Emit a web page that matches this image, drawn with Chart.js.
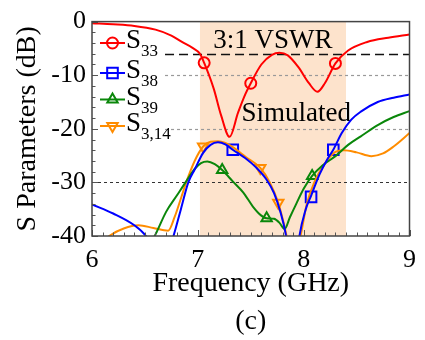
<!DOCTYPE html>
<html>
<head>
<meta charset="utf-8">
<script src="https://cdn.jsdelivr.net/npm/chart.js@4"></script>
<style>
  body { margin: 0; background: #fff; }
  #wrap { width: 425px; height: 340px; }
</style>
</head>
<body>
<div id="wrap"><canvas id="myChart"></canvas></div>
<script>
// S33 (red)
const s33Freq = [6.0, 6.2, 6.4, 6.6, 6.75, 6.85, 6.95, 7.02, 7.06, 7.15, 7.22, 7.3, 7.38, 7.45, 7.5, 7.6, 7.7, 7.77, 7.85, 7.95, 8.05, 8.13, 8.2, 8.3, 8.42, 8.6, 8.8, 9.0]
const s33Db   = [-0.3, -0.5, -0.8, -1.5, -2.6, -3.8, -4.9, -6, -7.7, -12.5, -17.5, -21.5, -17, -13.5, -11.5, -8, -6.2, -5.8, -6.3, -8.5, -11.5, -13.1, -11.5, -7.8, -5.4, -3.8, -3, -2.4]
const s33MarkFreq = [7.06, 7.5, 8.3]
const s33MarkDb   = [-7.7, -11.5, -7.8]

// S38 (blue)
const s38Freq = [6.0, 6.2, 6.4, 6.51, 6.6, 6.7, 6.77, 6.84, 6.91, 6.97, 7.05, 7.12, 7.19, 7.26, 7.33, 7.45, 7.55, 7.65, 7.72, 7.78, 7.83, 7.87, 7.93, 7.96, 8.02, 8.07, 8.15, 8.22, 8.28, 8.36, 8.45, 8.54, 8.7, 8.85, 9.0]
const s38Db   = [-34.1, -35.8, -38, -40, -43, -44, -40, -35, -30, -27.6, -24.5, -23, -22.5, -22.9, -23.9, -25.5, -27.2, -29.5, -32, -35.5, -39.6, -45, -45, -40, -35, -32.5, -28.5, -25.8, -23.9, -20.8, -18.3, -16.8, -15, -14.2, -13.6]
const s38MarkFreq = [7.33, 8.07, 8.28]
const s38MarkDb   = [-23.9, -32.7, -23.9]

// S39 (green)
const s39Freq = [6.45, 6.55, 6.61, 6.7, 6.8, 6.89, 6.97, 7.03, 7.09, 7.16, 7.23, 7.33, 7.43, 7.52, 7.6, 7.65, 7.72, 7.77, 7.82, 7.87, 7.93, 8.0, 8.08, 8.18, 8.3, 8.42, 8.54, 8.7, 8.85, 9.0]
const s39Db   = [-44, -41.5, -39.3, -35.5, -32.5, -29.8, -27.5, -26.4, -26.1, -26.6, -27.7, -29.8, -31.9, -34.5, -36.2, -36.7, -36.8, -37.5, -38.7, -36.5, -34, -31.2, -28.8, -26.8, -25.1, -23, -21.4, -19.3, -17.8, -16.7]
const s39MarkFreq = [7.23, 7.65, 8.08]
const s39MarkDb   = [-27.7, -36.7, -28.8]

// S3,14 (orange)
const s314Freq = [6.05, 6.17, 6.3, 6.44, 6.58, 6.72, 6.78, 6.84, 6.89, 6.97, 7.05, 7.12, 7.19, 7.28, 7.35, 7.45, 7.59, 7.68, 7.76, 7.81, 7.85, 7.9, 7.97, 8.03, 8.1, 8.2, 8.3, 8.38, 8.5, 8.64, 8.75, 8.85, 9.0]
const s314Db   = [-42, -39.9, -38.6, -38, -38.5, -39, -36.5, -33, -30, -26, -23.3, -22.4, -22.3, -22.8, -23.7, -25.2, -27.3, -30, -33.8, -37.5, -41, -45, -40, -34, -30, -26.5, -24.3, -24, -24.4, -25.1, -24.6, -23.3, -20.8]
const s314MarkFreq = [7.05, 7.59, 7.76]
const s314MarkDb   = [-23.3, -27.3, -33.8]

const bandFreq = [7.02, 8.4]
const vswrDb = -6
const serif = "'Liberation Serif', 'Times New Roman', serif"

const toXY = (xs, ys) => xs.map((x, i) => ({ x: x, y: ys[i] }))

const series = [
  { name: 'S', sub: '33', color: '#ff0000', style: 'circle', rot: 0, r: 5.5, f: s33Freq, d: s33Db, mf: s33MarkFreq, md: s33MarkDb },
  { name: 'S', sub: '38', color: '#0000ff', style: 'rect', rot: 0, r: 7.5, f: s38Freq, d: s38Db, mf: s38MarkFreq, md: s38MarkDb },
  { name: 'S', sub: '39', color: '#0a870a', style: 'triangle', rot: 0, r: 6, f: s39Freq, d: s39Db, mf: s39MarkFreq, md: s39MarkDb },
  { name: 'S', sub: '3,14', color: '#ff8c00', style: 'triangle', rot: 180, r: 6, f: s314Freq, d: s314Db, mf: s314MarkFreq, md: s314MarkDb }
]

const datasets = []
series.forEach(s => {
  datasets.push({
    data: toXY(s.f, s.d),
    borderColor: s.color,
    borderWidth: 2,
    pointRadius: 0,
    showLine: true,
    cubicInterpolationMode: 'monotone'
  })
})
series.forEach(s => {
  datasets.push({
    data: toXY(s.mf, s.md),
    showLine: false,
    borderColor: s.color,
    backgroundColor: 'rgba(0,0,0,0)',
    borderWidth: 2,
    pointStyle: s.style,
    rotation: s.rot,
    pointRadius: s.r
  })
})

// shaded band, reference lines and text
const decor = {
  id: 'decor',
  beforeDatasetsDraw(chart) {
    const { ctx, chartArea: a, scales: { x, y } } = chart
    ctx.save()
    ctx.fillStyle = '#fde3cc'
    ctx.fillRect(x.getPixelForValue(bandFreq[0]), a.top, x.getPixelForValue(bandFreq[1]) - x.getPixelForValue(bandFreq[0]), a.bottom - a.top)

    const hline = (v, x0, color, w, dash) => {
      ctx.beginPath()
      ctx.strokeStyle = color
      ctx.lineWidth = w
      ctx.setLineDash(dash)
      const yy = Math.round(y.getPixelForValue(v)) + 0.5
      ctx.moveTo(x.getPixelForValue(x0), yy)
      ctx.lineTo(a.right, yy)
      ctx.stroke()
    }
    hline(-10, 6.69, '#999999', 1.2, [3, 3])
    hline(-20, 6.69, '#999999', 1.2, [3, 3])
    hline(-30, 6, '#333333', 1, [3, 3])
    hline(vswrDb, 6.69, '#111111', 1.6, [9, 5])
    ctx.setLineDash([])

    ctx.fillStyle = '#000'
    ctx.font = '27px ' + serif
    ctx.textAlign = 'center'
    ctx.textBaseline = 'middle'
    ctx.fillText('3:1 VSWR', x.getPixelForValue(7.71), y.getPixelForValue(-3.6))
    ctx.fillText('Simulated', x.getPixelForValue(7.93), y.getPixelForValue(-17.2))
    ctx.restore()
  },
  afterDraw(chart) {
    const { ctx, chartArea: a, scales: { x, y } } = chart
    ctx.save()
    // minor ticks
    ctx.strokeStyle = '#555'
    ctx.lineWidth = 1
    ctx.beginPath()
    for (let i = 0; i <= 30; i++) {
      const px = Math.round(x.getPixelForValue(6 + i / 10)) + 0.5
      const len = i % 10 === 0 ? 6 : 3.5
      ctx.moveTo(px, a.bottom)
      ctx.lineTo(px, a.bottom - len)
    }
    for (let i = 0; i <= 20; i++) {
      const py = Math.round(y.getPixelForValue(-i * 2)) + 0.5
      const len = i % 5 === 0 ? 6 : 3.5
      ctx.moveTo(a.left, py)
      ctx.lineTo(a.left + len, py)
    }
    ctx.stroke()
    // frame
    ctx.strokeStyle = '#444'
    ctx.lineWidth = 1.5
    ctx.strokeRect(a.left, a.top, a.right - a.left, a.bottom - a.top)

    // legend
    const rows = [43, 73, 99.5, 126]
    series.forEach((s, i) => {
      const yy = rows[i]
      ctx.strokeStyle = s.color
      ctx.lineWidth = 2
      ctx.beginPath()
      ctx.moveTo(100, yy)
      ctx.lineTo(125, yy)
      ctx.stroke()
      const cx = 112.5
      ctx.beginPath()
      if (s.style === 'circle') {
        ctx.arc(cx, yy, s.r, 0, Math.PI * 2)
      } else if (s.style === 'rect') {
        const h = s.r * Math.SQRT1_2
        ctx.rect(cx - h, yy - h, 2 * h, 2 * h)
      } else {
        const sgn = s.rot ? -1 : 1
        const r = s.r
        ctx.moveTo(cx, yy - sgn * r)
        ctx.lineTo(cx + r * 0.866, yy + sgn * r / 2)
        ctx.lineTo(cx - r * 0.866, yy + sgn * r / 2)
        ctx.closePath()
      }
      ctx.stroke()
      ctx.fillStyle = '#000'
      ctx.textAlign = 'left'
      ctx.textBaseline = 'middle'
      ctx.font = '27px ' + serif
      ctx.fillText(s.name, 126, yy - 2)
      ctx.font = '17px ' + serif
      ctx.fillText(s.sub, 141, yy + 9)
    })
    ctx.restore()
  }
}

const ctx = document.getElementById('myChart')

new Chart(ctx, {
  type: 'scatter',
  data: { datasets: datasets },
  options: {
    responsive: true,
    maintainAspectRatio: false,
    animation: false,
    layout: { padding: { top: 20, right: 9, bottom: 0, left: 0 } },
    plugins: {
      legend: { display: false },
      tooltip: { enabled: false }
    },
    scales: {
      x: {
        type: 'linear',
        min: 6,
        max: 9,
        afterFit: s => { s.height = 104 },
        grid: { display: false, drawTicks: false },
        border: { display: false },
        ticks: { stepSize: 1, padding: 9, color: '#000', font: { family: serif, size: 26 } },
        title: {
          display: true,
          text: ['Frequency (GHz)', '(c)'],
          color: '#000',
          font: { family: serif, size: 28, lineHeight: 1.33 },
          padding: { top: 0, bottom: 0 }
        }
      },
      y: {
        min: -40,
        max: 0,
        afterFit: s => { s.width = 92 },
        grid: { display: false, drawTicks: false },
        border: { display: false },
        ticks: { stepSize: 10, padding: 6, color: '#000', font: { family: serif, size: 26 } },
        title: {
          display: true,
          text: 'S Parameters (dB)',
          color: '#000',
          font: { family: serif, size: 28 },
          padding: { top: 11, bottom: 0 }
        }
      }
    }
  },
  plugins: [decor]
})
</script>
</body>
</html>
